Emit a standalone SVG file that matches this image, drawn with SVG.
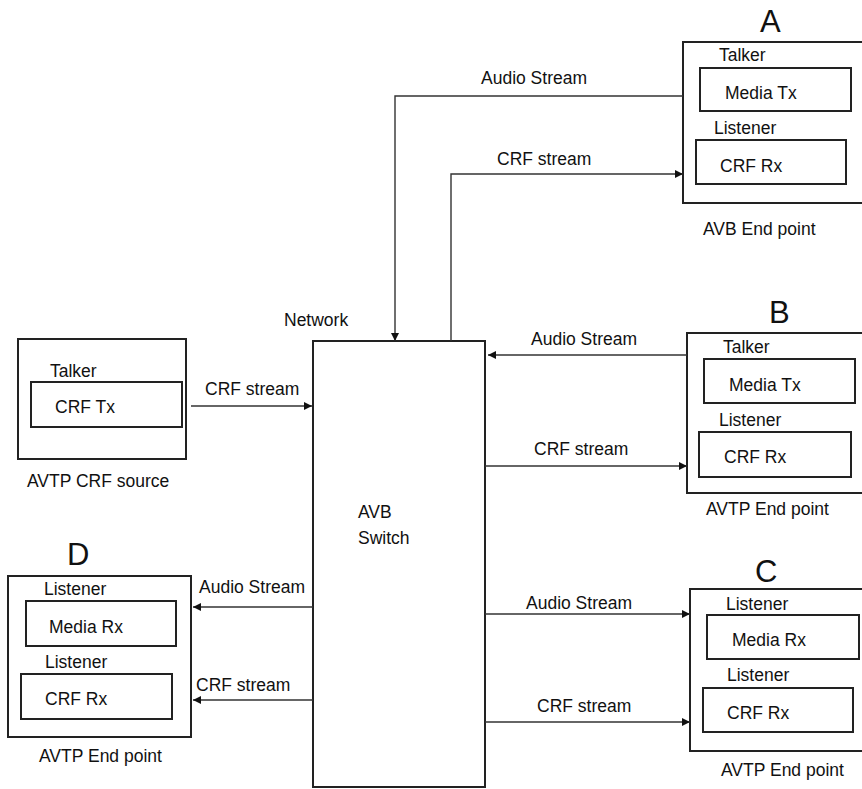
<svg xmlns="http://www.w3.org/2000/svg" width="862" height="789" viewBox="0 0 862 789">
<style>
.box{fill:none;stroke:#222;stroke-width:2}
.t{font-family:"Liberation Sans",Arial,sans-serif;font-size:17.5px;fill:#111}
.big{font-family:"Liberation Sans",Arial,sans-serif;font-size:31px;fill:#111}
.c{fill:none;stroke:#333;stroke-width:1.4}
</style>
<defs>
<marker id="ah" viewBox="0 0 10 10" refX="10" refY="5" markerUnits="userSpaceOnUse" markerWidth="9" markerHeight="8" orient="auto">
<path d="M0,0 L10,5 L0,10 z" fill="#111"/>
</marker>
</defs>
<rect width="862" height="789" fill="#fff"/>

<g id="switch">
<rect class="box" x="313" y="341" width="172" height="446"/>
<text class="t" x="284" y="326">Network</text>
<text class="t" x="358" y="518">AVB</text>
<text class="t" x="358" y="544">Switch</text>
</g>

<g id="nodeA">
<text class="big" x="760" y="32">A</text>
<rect class="box" x="683" y="42" width="190" height="161"/>
<text class="t" x="719" y="61">Talker</text>
<rect class="box" x="700" y="68" width="151" height="43"/>
<text class="t" x="725" y="99">Media Tx</text>
<text class="t" x="714" y="134">Listener</text>
<rect class="box" x="696" y="140" width="150" height="44"/>
<text class="t" x="720" y="172">CRF Rx</text>
<text class="t" x="703" y="235">AVB End point</text>
</g>

<g id="nodeB">
<text class="big" x="769" y="323">B</text>
<rect class="box" x="687" y="333" width="190" height="160"/>
<text class="t" x="723" y="353">Talker</text>
<rect class="box" x="704" y="359" width="151" height="44"/>
<text class="t" x="729" y="391">Media Tx</text>
<text class="t" x="719" y="426">Listener</text>
<rect class="box" x="699" y="432" width="152" height="45"/>
<text class="t" x="724" y="463">CRF Rx</text>
<text class="t" x="706" y="515">AVTP End point</text>
</g>

<g id="nodeC">
<text class="big" x="755" y="582">C</text>
<rect class="box" x="690" y="589" width="190" height="162"/>
<text class="t" x="726" y="610">Listener</text>
<rect class="box" x="707" y="615" width="152" height="44"/>
<text class="t" x="732" y="646">Media Rx</text>
<text class="t" x="727" y="681">Listener</text>
<rect class="box" x="703" y="688" width="150" height="44"/>
<text class="t" x="727" y="719">CRF Rx</text>
<text class="t" x="721" y="776">AVTP End point</text>
</g>

<g id="nodeD">
<text class="big" x="67" y="565">D</text>
<rect class="box" x="8" y="576" width="183" height="161"/>
<text class="t" x="44" y="595">Listener</text>
<rect class="box" x="26" y="601" width="150" height="45"/>
<text class="t" x="49" y="633">Media Rx</text>
<text class="t" x="45" y="668">Listener</text>
<rect class="box" x="21" y="674" width="151" height="45"/>
<text class="t" x="45" y="705">CRF Rx</text>
<text class="t" x="39" y="762">AVTP End point</text>
</g>

<g id="source">
<rect class="box" x="18" y="339" width="168" height="120"/>
<text class="t" x="50" y="377">Talker</text>
<rect class="box" x="31" y="382" width="151" height="45"/>
<text class="t" x="55" y="413">CRF Tx</text>
<text class="t" x="27" y="487">AVTP CRF source</text>
</g>

<g id="connectors">
<path class="c" d="M683,96 H395 V341" marker-end="url(#ah)"/>
<text class="t" x="481" y="84">Audio Stream</text>
<path class="c" d="M451,341 V174 H683" marker-end="url(#ah)"/>
<text class="t" x="497" y="165">CRF stream</text>
<path class="c" d="M687,355 H488" marker-end="url(#ah)"/>
<text class="t" x="531" y="345">Audio Stream</text>
<path class="c" d="M485,466 H687" marker-end="url(#ah)"/>
<text class="t" x="534" y="455">CRF stream</text>
<path class="c" d="M191,406 H312" marker-end="url(#ah)"/>
<text class="t" x="205" y="395">CRF stream</text>
<path class="c" d="M313,607 H193" marker-end="url(#ah)"/>
<text class="t" x="199" y="593">Audio Stream</text>
<path class="c" d="M313,700 H193" marker-end="url(#ah)"/>
<text class="t" x="196" y="691">CRF stream</text>
<path class="c" d="M485,614 H690" marker-end="url(#ah)"/>
<text class="t" x="526" y="609">Audio Stream</text>
<path class="c" d="M485,722 H690" marker-end="url(#ah)"/>
<text class="t" x="537" y="712">CRF stream</text>
</g>
</svg>
